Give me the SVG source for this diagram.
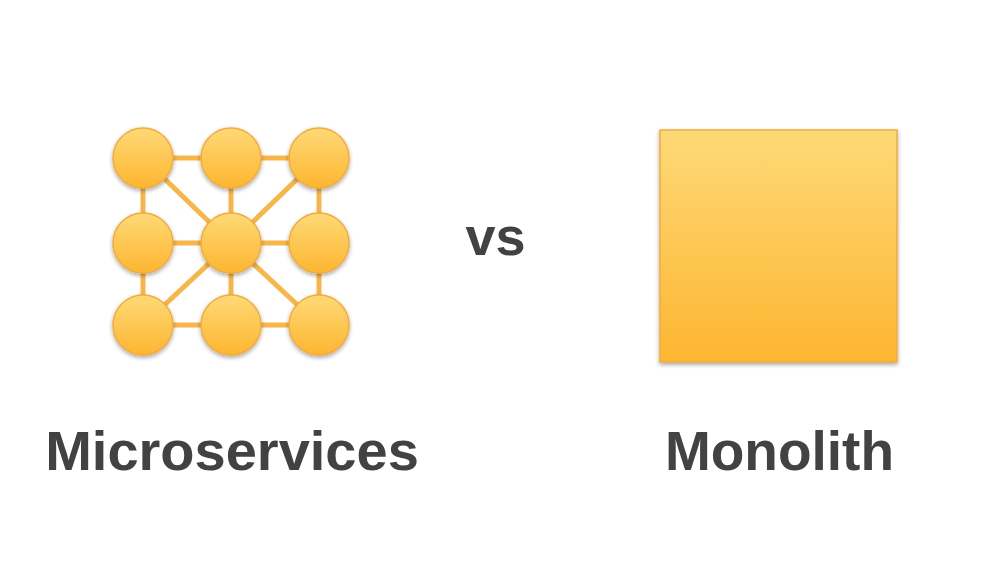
<svg xmlns="http://www.w3.org/2000/svg" width="992" height="579" viewBox="0 0 992 579">
<defs>
<linearGradient id="g" x1="0" y1="0" x2="0" y2="1">
<stop offset="0" stop-color="#FED977"/>
<stop offset="1" stop-color="#FDB630"/>
</linearGradient>
<filter id="sh" x="-20%" y="-20%" width="140%" height="140%">
<feGaussianBlur in="SourceAlpha" stdDeviation="2"/>
<feOffset dx="0" dy="2" result="b"/>
<feComponentTransfer><feFuncA type="linear" slope="0.35"/></feComponentTransfer>
<feMerge><feMergeNode/><feMergeNode in="SourceGraphic"/></feMerge>
</filter>
</defs>
<style>
.e{stroke:#F8B64A;stroke-width:5;fill:none}
.n{fill:url(#g);stroke:#F2AC3C;stroke-width:1.5;filter:url(#sh)}
.t{font-family:"Liberation Sans",Arial,sans-serif;font-weight:bold;fill:#424242;text-anchor:middle}
</style>
<rect width="992" height="579" fill="#FFFFFF"/>
<g id="connectors">
<line class="e" x1="143" y1="158" x2="231" y2="158"/>
<line class="e" x1="231" y1="158" x2="319" y2="158"/>
<line class="e" x1="143" y1="243" x2="231" y2="243"/>
<line class="e" x1="231" y1="243" x2="319" y2="243"/>
<line class="e" x1="143" y1="325" x2="231" y2="325"/>
<line class="e" x1="231" y1="325" x2="319" y2="325"/>
<line class="e" x1="143" y1="158" x2="143" y2="243"/>
<line class="e" x1="143" y1="243" x2="143" y2="325"/>
<line class="e" x1="231" y1="158" x2="231" y2="243"/>
<line class="e" x1="231" y1="243" x2="231" y2="325"/>
<line class="e" x1="319" y1="158" x2="319" y2="243"/>
<line class="e" x1="319" y1="243" x2="319" y2="325"/>
<line class="e" x1="143" y1="158" x2="231" y2="243"/>
<line class="e" x1="319" y1="158" x2="231" y2="243"/>
<line class="e" x1="143" y1="325" x2="231" y2="243"/>
<line class="e" x1="319" y1="325" x2="231" y2="243"/>
</g>
<g id="n1"><circle class="n" cx="143" cy="158" r="30"/></g>
<g id="n2"><circle class="n" cx="231" cy="158" r="30"/></g>
<g id="n3"><circle class="n" cx="319" cy="158" r="30"/></g>
<g id="n4"><circle class="n" cx="143" cy="243" r="30"/></g>
<g id="n5"><circle class="n" cx="231" cy="243" r="30"/></g>
<g id="n6"><circle class="n" cx="319" cy="243" r="30"/></g>
<g id="n7"><circle class="n" cx="143" cy="325" r="30"/></g>
<g id="n8"><circle class="n" cx="231" cy="325" r="30"/></g>
<g id="n9"><circle class="n" cx="319" cy="325" r="30"/></g>
<g id="monolith"><rect class="n" x="660" y="130" width="237" height="232"/></g>
<g id="labels">
<text class="t" x="232" y="470" font-size="56">Microservices</text>
<text class="t" x="495.5" y="255" font-size="54">vs</text>
<text class="t" x="779.5" y="470" font-size="55">Monolith</text>
</g>
</svg>
